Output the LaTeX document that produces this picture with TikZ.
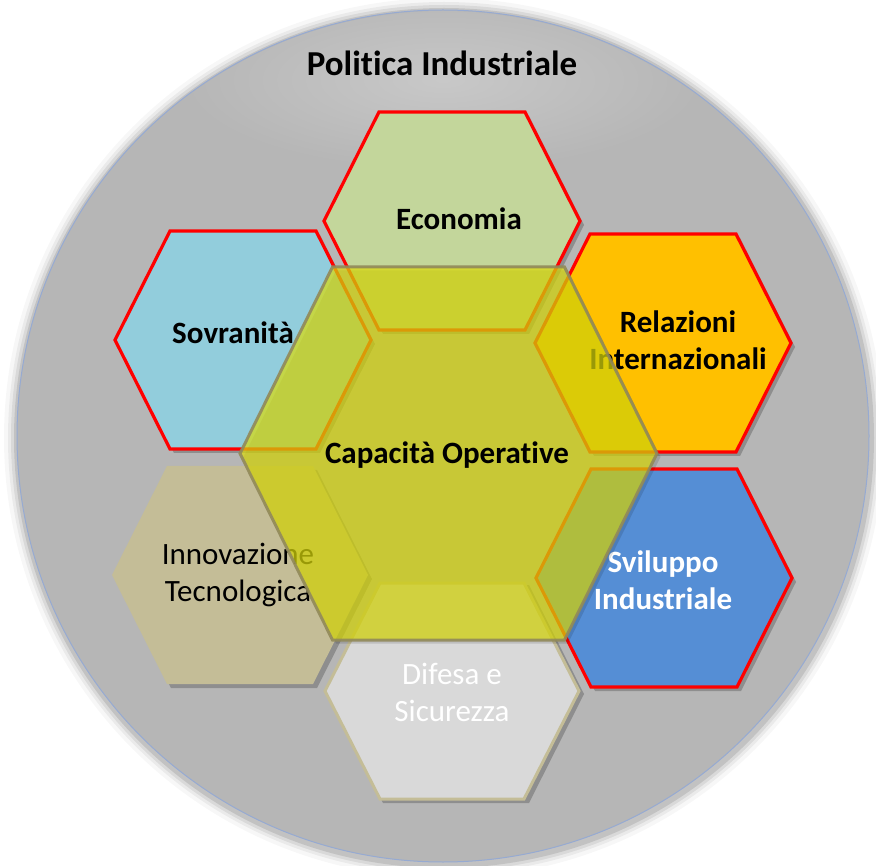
\documentclass[tikz,border=0pt]{standalone}
\usepackage{fontspec}
\setmainfont[Ligatures={NoCommon}]{Carlito}
\definecolor{bggray}{RGB}{182,182,182}
\definecolor{glowgray}{RGB}{200,200,200}
\definecolor{rimblue}{RGB}{150,170,210}
\definecolor{ecofill}{RGB}{195,214,155}
\definecolor{sovfill}{RGB}{146,205,220}
\definecolor{relfill}{RGB}{255,192,0}
\definecolor{svifill}{RGB}{85,142,213}
\definecolor{innfill}{RGB}{196,189,151}
\definecolor{diffill}{RGB}{217,217,217}
\definecolor{difline}{RGB}{196,189,151}
\definecolor{hexred}{RGB}{255,0,0}
\definecolor{capfill}{RGB}{218,218,10}
\definecolor{capline}{RGB}{145,137,90}
\tikzset{
  pics/hexa/.style args={#1/#2/#3}{code={\path[pic actions] (-#1,0) -- (-#1+#3,-#2) -- (#1-#3,-#2) -- (#1,0) -- (#1-#3,#2) -- (-#1+#3,#2) -- cycle;}},
  hexshadow/.style={fill=black,fill opacity=0.22},
  redhex/.style={draw=hexred,line width=3.2pt,line join=miter},
  boldlabel/.style={font=\fontsize{31}{37}\selectfont\bfseries,align=center,inner sep=0pt},
  plainlabel/.style={font=\fontsize{31}{37}\selectfont,align=center,inner sep=0pt}
}
\begin{document}
\begin{tikzpicture}[x=1pt,y=-1pt]
\useasboundingbox (0,0) rectangle (876,866);
\fill[white] (0,0) rectangle (876,866);
% circle shadow
\foreach \r/\o in {440/0.03,436/0.05,433/0.07,430/0.10}{
  \fill[black,opacity=\o] (444,438) circle[radius=\r];
}
\fill[bggray] (443,436) circle[radius=426];
\begin{scope}
\clip (443,436) circle[radius=425];
\shade[inner color=glowgray,outer color=bggray] (443,80) ellipse[x radius=260,y radius=90];
\end{scope}
\draw[rimblue,line width=1pt] (443,436) circle[radius=426];
\node[boldlabel,font=\fontsize{35}{40}\selectfont\bfseries] (title) at (442,63) {Politica Industriale};

% shadows
\pic[hexshadow] at (456,225) {hexa=128/109/55};
\pic[hexshadow] at (247,344) {hexa=128/109/55};
\pic[hexshadow] at (667,347) {hexa=128/109/55};
\pic[hexshadow] at (244,579) {hexa=128/109/55};
\pic[hexshadow] at (668,582) {hexa=128/109/55};
\pic[hexshadow] at (456,694) {hexa=128/109/55};

% small hexagons
\pic[fill=ecofill,redhex] at (452,221) {hexa=128/109/55};
\node[boldlabel] (eco) at (459,219) {Economia};
\pic[fill=sovfill,redhex] at (243,340) {hexa=128/109/55};
\node[boldlabel] (sov) at (233,333) {Sovranità};
\pic[fill=relfill,redhex] at (663,343) {hexa=128/109/55};
\node[boldlabel] (rel) at (678,340) {Relazioni\\Internazionali};
\pic[fill=innfill] at (240,575) {hexa=128/109/55};
\node[plainlabel] (inn) at (238,575) {Innovazione\\Tecnologica};
\pic[fill=svifill,redhex] at (664,578) {hexa=128/109/55};
\node[boldlabel,text=white] (svi) at (663,580) {Sviluppo\\Industriale};
\pic[fill=diffill,draw=difline,line width=3pt] at (452,691) {hexa=127/108/55};
\node[plainlabel,text=white] (dif) at (452,692) {Difesa e\\Sicurezza};

% central hexagon
\pic[hexshadow,fill opacity=0.12] at (452,457) {hexa=208.5/186.5/92.5};
\pic[fill=capfill,fill opacity=0.7,draw=capline,draw opacity=0.9,line width=3pt] at (448.5,453.5) {hexa=208.5/186.5/92.5};
\node[boldlabel] (cap) at (447,455) {Capacità Operative};
\end{tikzpicture}
\end{document}
